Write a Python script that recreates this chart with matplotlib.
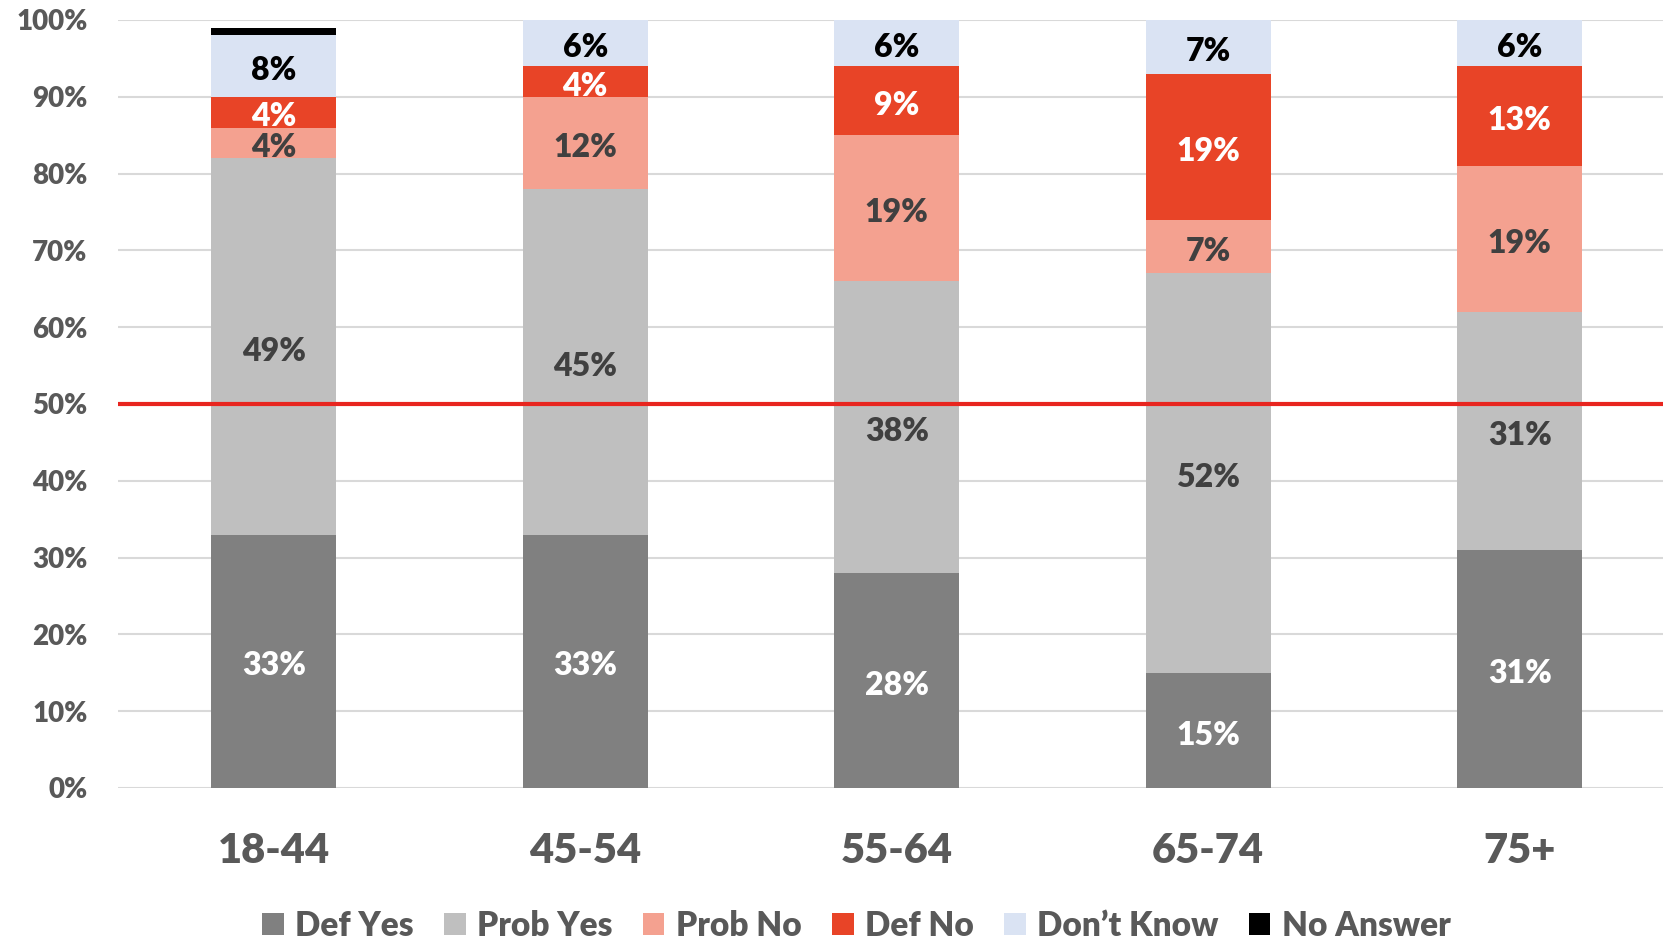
import matplotlib
matplotlib.use("Agg")
import matplotlib.pyplot as plt
import numpy as np

categories = ["18-44", "45-54", "55-64", "65-74", "75+"]
series_names = ["Def Yes", "Prob Yes", "Prob No", "Def No", "Don\u2019t Know", "No Answer"]
def_yes = [33, 33, 28, 15, 31]
prob_yes = [49, 45, 38, 52, 31]
prob_no = [4, 12, 19, 7, 19]
def_no = [4, 4, 9, 19, 13]
dont_know = [8, 6, 6, 7, 6]
no_answer = [1, 0, 0, 0, 0]
yticks = [0, 10, 20, 30, 40, 50, 60, 70, 80, 90, 100]

series = [def_yes, prob_yes, prob_no, def_no, dont_know, no_answer]
colors = ["#808080", "#BFBFBF", "#F4A190", "#E84427", "#DAE3F3", "#000000"]
label_colors = ["white", "#404040", "#404040", "white", "black", None]

plt.rcParams['font.family'] = ['Lato', 'DejaVu Sans']
fig = plt.figure(figsize=(16.63, 9.42), dpi=100)
ax = fig.add_axes([118/1663, 1-788/942, 1-118/1663, (788-20)/942])

x = np.arange(len(categories))
bottom = np.zeros(len(categories))
for vals, name, c, lc in zip(series, series_names, colors, label_colors):
    v = np.array(vals, dtype=float)
    ax.bar(x, v, 0.4, bottom=bottom, color=c, label=name, zorder=3)
    if lc is not None:
        for xi, vi, bi in zip(x, v, bottom):
            if vi > 0:
                ax.text(xi, bi + vi/2 - 0.6, f"{int(vi)}%", ha="center", va="center",
                        color=lc, fontsize=23, fontweight="heavy", zorder=5)
    bottom += v

ax.axhline(50, color="#E8251F", lw=3, zorder=4)
ax.set_ylim(0, 100)
ax.set_xlim(-0.5, 4.46)
ax.set_yticks(yticks)
ax.set_yticklabels([f"{t}%" for t in yticks])
ax.yaxis.grid(True, color="#D9D9D9", lw=1.5, zorder=0)
ax.set_axisbelow(True)
for s in ax.spines.values():
    s.set_visible(False)
ax.tick_params(axis="y", length=0, pad=22, labelsize=20, labelcolor="#595959")
ax.set_xticks(x)
ax.set_xticklabels(categories)
ax.tick_params(axis="x", length=0, pad=32, labelsize=30, labelcolor="#595959")
for lab in ax.get_yticklabels() + ax.get_xticklabels():
    lab.set_fontweight("heavy")

leg = fig.legend(loc="center", bbox_to_anchor=(0.515, 1-926/942), ncol=6, frameon=False,
                 fontsize=24, handlelength=0.65, handleheight=0.65, handletextpad=0.35,
                 columnspacing=0.9)
for t in leg.get_texts():
    t.set_color("#595959")
    t.set_fontweight("heavy")

fig.savefig("out.png", dpi=100)
